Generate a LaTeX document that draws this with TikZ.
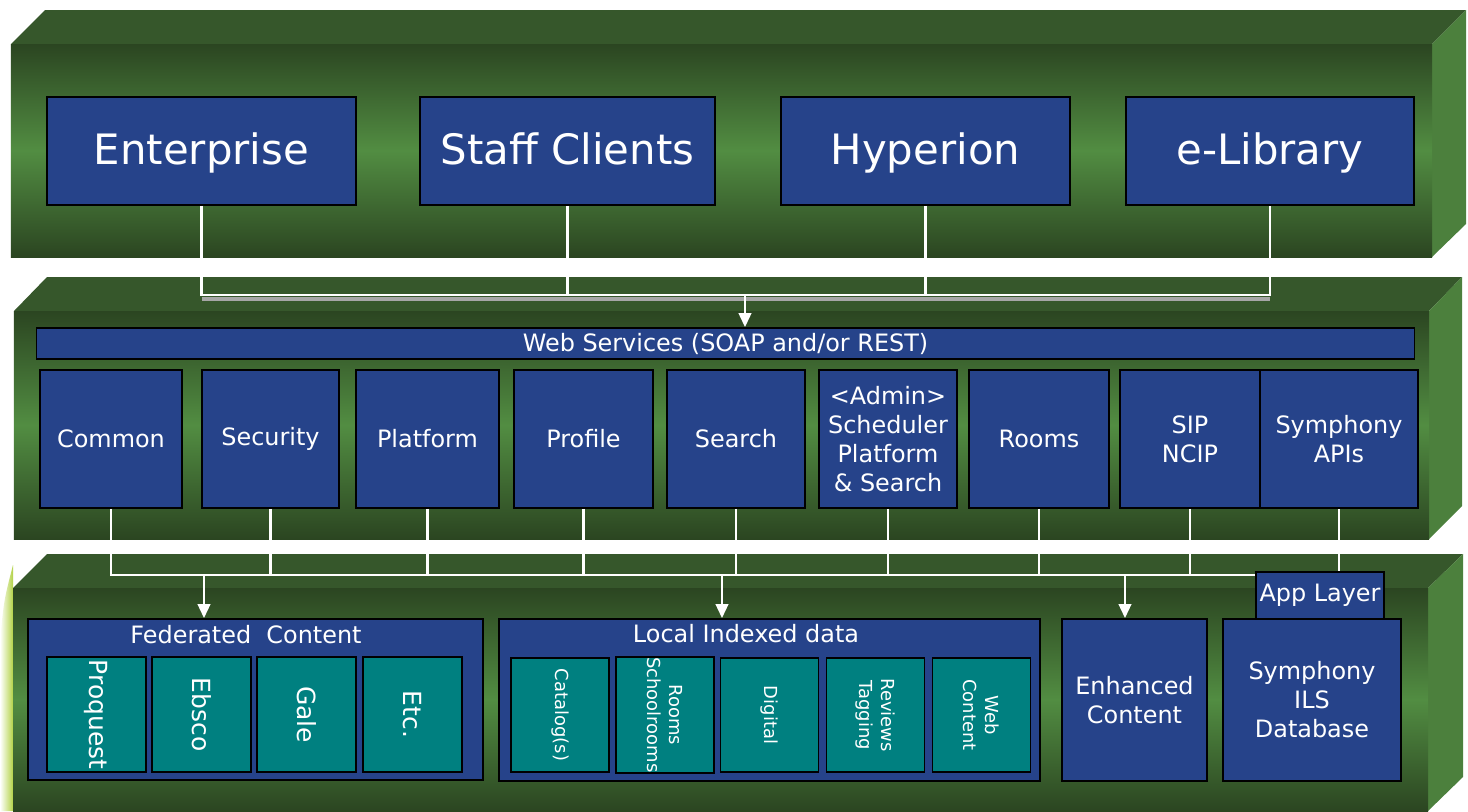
\documentclass[tikz,border=0pt]{standalone}
\usepackage{fontspec}
\setmainfont{DejaVu Sans}
\usetikzlibrary{arrows.meta}

\definecolor{boxblue}{RGB}{38,67,138}
\definecolor{srcteal}{RGB}{0,128,128}
\definecolor{slabtop}{RGB}{54,87,43}
\definecolor{slabdark}{RGB}{43,69,33}
\definecolor{slablight}{RGB}{82,141,66}
\definecolor{slabside}{RGB}{76,128,61}
\definecolor{leaf}{RGB}{178,210,70}

\begin{document}
\begin{tikzpicture}[x=0.01cm, y=-0.01cm]
    % Define basic node styles
    \tikzset{
        block/.style={
            rectangle,
            draw=black,
            line width=0.5pt,
            fill=boxblue,
            text=white,
            align=center,
            inner sep=1pt,
            font=\fontsize{6.8}{8.25}\selectfont
        },
        bigblock/.style={block, minimum height=1.08cm, text height=0.75em, text depth=0pt, font=\fontsize{11.9}{14}\selectfont},
        service/.style={block, minimum height=1.38cm},
        title/.style={text=white, inner sep=0pt, font=\fontsize{6.8}{8.25}\selectfont},
        source/.style={block, fill=srcteal, rotate=-90, inner sep=0pt},
        wire/.style={draw=white, line width=0.65pt},
        feed/.style={wire, -{Triangle[width=3.6pt,length=4pt]}}
    }
    \useasboundingbox (0,0) rectangle (1468,811);
    \fill[white] (0,0) rectangle (1468,811);
    \shade[left color=white, right color=leaf] (0,811) -- (0,640) .. controls (4,600) .. (13,565) -- (13,811) -- cycle;

    % Client layer slab
    \fill[slabtop] (11,44) -- (45,10) -- (1466,10) -- (1432,44) -- cycle;
    \fill[slabside] (1432,44) -- (1466,10) -- (1466,224) -- (1432,257) -- cycle;
    \shade[top color=slabdark, bottom color=slabdark, middle color=slablight] (11,44) rectangle (1432,257);

    % Services layer slab
    \fill[slabtop] (14,311) -- (47,277) -- (1462,277) -- (1429,311) -- cycle;
    \fill[slabside] (1429,311) -- (1462,277) -- (1462,506) -- (1429,539) -- cycle;
    \shade[top color=slabdark, bottom color=slabdark, middle color=slablight] (14,311) rectangle (1429,539);

    % Data layer slab
    \fill[slabtop] (13,588) -- (47,554) -- (1463,554) -- (1428,588) -- cycle;
    \fill[slabside] (1428,588) -- (1463,554) -- (1463,777) -- (1428,811) -- cycle;
    \shade[top color=slabdark, bottom color=slabdark, middle color=slablight] (13,588) rectangle (1428,811);

    % Clients
    \node[bigblock, minimum width=3.09cm] (enterprise) at (201.5,151) {Enterprise};
    \node[bigblock, minimum width=2.95cm] (staff) at (567.5,151) {Staff Clients};
    \node[bigblock, minimum width=2.89cm] (hyperion) at (925.5,151) {Hyperion};
    \node[bigblock, minimum width=2.88cm] (elibrary) at (1270,151) {e-Library};

    % Web services
    \node[block, minimum width=13.77cm, minimum height=0.31cm] (ws) at (725.5,343.5) {Web Services (SOAP and/or REST)};
    \node[service, minimum width=1.42cm] (common) at (111,439) {Common};
    \node[service, minimum width=1.37cm] (security) at (270.5,439) {Security};
    \node[service, minimum width=1.43cm] (platform) at (427.5,439) {Platform};
    \node[service, minimum width=1.39cm] (profile) at (583.5,439) {Profile};
    \node[service, minimum width=1.38cm] (search) at (736,439) {Search};
    \node[service, minimum width=1.38cm] (admin) at (888,439) {<Admin>\\Scheduler\\Platform\\\& Search};
    \node[service, minimum width=1.40cm] (rooms) at (1039,439) {Rooms};
    \node[service, minimum width=1.40cm] (sip) at (1190,439) {SIP\\NCIP};
    \node[service, minimum width=1.58cm] (apis) at (1339,439) {Symphony\\APIs};

    % Federated content
    \node[block, minimum width=4.55cm, minimum height=1.61cm] (fed) at (255.5,699.5) {};
    \node[title] (fedtitle) at (246,635) {Federated\ \ Content};
    \node[source, minimum width=1.15cm, minimum height=0.99cm, font=\fontsize{7.1}{8.5}\selectfont] (proquest) at (96.5,714.5) {Proquest};
    \node[source, minimum width=1.15cm, minimum height=0.99cm, font=\fontsize{7.1}{8.5}\selectfont] (ebsco) at (201.5,714.5) {Ebsco};
    \node[source, minimum width=1.15cm, minimum height=0.99cm, font=\fontsize{7.1}{8.5}\selectfont] (gale) at (306.5,714.5) {Gale};
    \node[source, minimum width=1.15cm, minimum height=0.99cm, font=\fontsize{7.1}{8.5}\selectfont] (etc) at (412.5,714.5) {Etc.};

    % Local indexed data
    \node[block, minimum width=5.41cm, minimum height=1.62cm] (local) at (769.5,700) {};
    \node[title] (localtitle) at (746,634) {Local Indexed data};
    \node[source, minimum width=1.14cm, minimum height=0.98cm, font=\fontsize{5.1}{6.3}\selectfont] (catalog) at (560,715) {Catalog(s)};
    \node[source, minimum width=1.14cm, minimum height=0.98cm, font=\fontsize{5.1}{6.3}\selectfont] (schoolrooms) at (665,715) {Rooms\\Schoolrooms};
    \node[source, minimum width=1.14cm, minimum height=0.98cm, font=\fontsize{5.1}{6.3}\selectfont] (digital) at (769.5,715) {Digital};
    \node[source, minimum width=1.14cm, minimum height=0.98cm, font=\fontsize{5.1}{6.3}\selectfont] (reviews) at (875.5,715) {Reviews\\Tagging};
    \node[source, minimum width=1.14cm, minimum height=0.98cm, font=\fontsize{5.1}{6.3}\selectfont] (webcontent) at (981.5,715) {Web\\Content};

    % Enhanced content and ILS
    \node[block, minimum width=1.45cm, minimum height=1.62cm] (enhanced) at (1134.5,700) {Enhanced\\Content};
    \node[block, minimum width=1.78cm, minimum height=1.62cm] (ils) at (1312,700) {Symphony\\ILS\\Database};

    % Connections from clients to web services
    \coordinate (topbus) at (745,295);
    \draw[line width=1pt, black!35] ([yshift=-1.1pt]enterprise.south |- topbus) -- ([yshift=-1.1pt]elibrary.south |- topbus);
    \draw[wire] (enterprise.south) |- (elibrary.south |- topbus) -- (elibrary.south);
    \draw[wire] (staff.south) -- (staff.south |- topbus);
    \draw[wire] (hyperion.south) -- (hyperion.south |- topbus);
    \draw[feed] (topbus) -- (topbus |- ws.north);

    % Connections from services to data
    \coordinate (lowbus) at (0,575);
    \draw[wire] (common.south) |- (apis.south |- lowbus) -- (apis.south);
    \draw[wire] (security.south) -- (security.south |- lowbus);
    \draw[wire] (platform.south) -- (platform.south |- lowbus);
    \draw[wire] (profile.south) -- (profile.south |- lowbus);
    \draw[wire] (search.south) -- (search.south |- lowbus);
    \draw[wire] (admin.south) -- (admin.south |- lowbus);
    \draw[wire] (rooms.south) -- (rooms.south |- lowbus);
    \draw[wire] (sip.south) -- (sip.south |- lowbus);

    \coordinate (tofed) at (204,575);
    \coordinate (tolocal) at (722,575);
    \coordinate (toenh) at (1125,575);
    \draw[feed] (tofed) -- (tofed |- fed.north);
    \draw[feed] (tolocal) -- (tolocal |- local.north);
    \draw[feed] (toenh) -- (toenh |- enhanced.north);

    % App layer on top of the bus
    \node[block, minimum width=1.28cm, minimum height=0.47cm] (app) at (1320,595.5) {App Layer};
\end{tikzpicture}
\end{document}
